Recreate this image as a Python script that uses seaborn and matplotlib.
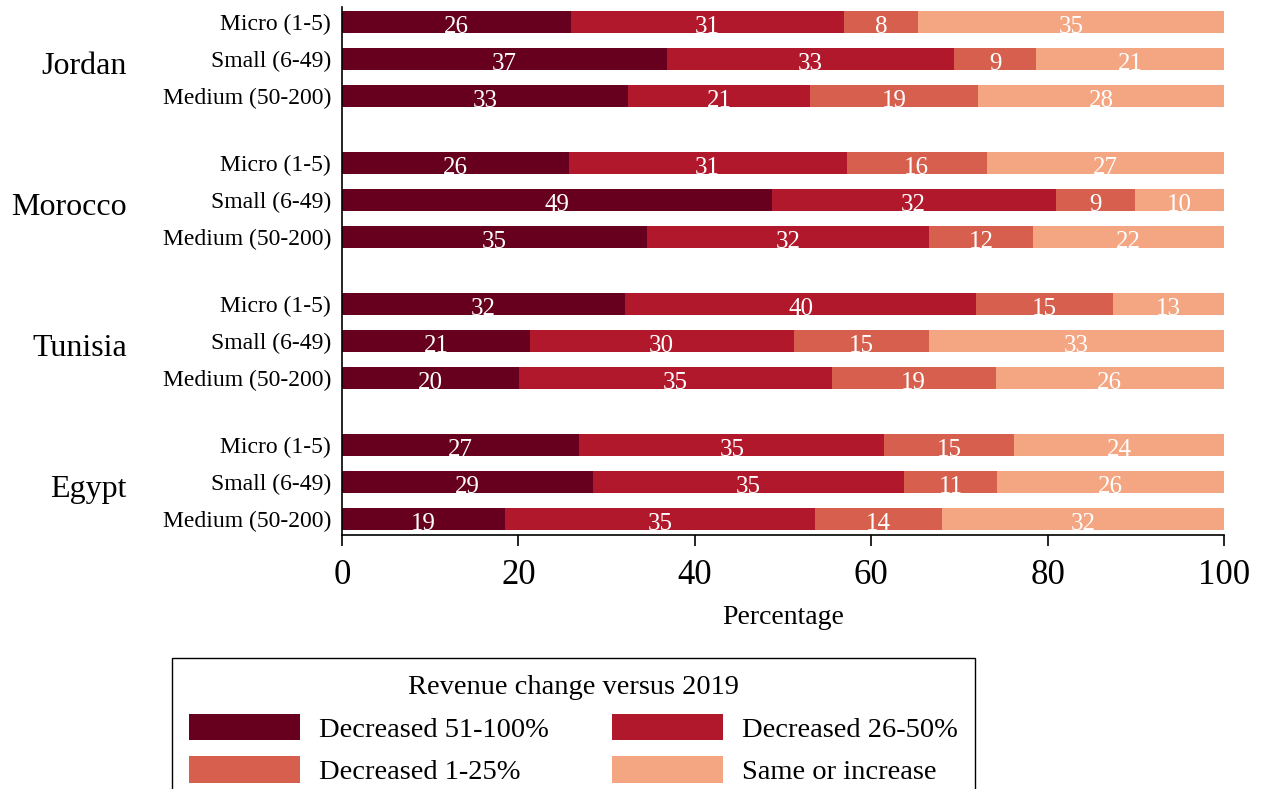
import matplotlib
matplotlib.use("Agg")
import matplotlib.pyplot as plt
import matplotlib.transforms as mtransforms
from matplotlib.patches import Patch
import seaborn as sns
import pandas as pd
import numpy as np

# data (segment widths in %, and the printed labels)
countries = ["Jordan", "Morocco", "Tunisia", "Egypt"]
sizes = ["Micro (1-5)", "Small (6-49)", "Medium (50-200)"]
categories = ["Decreased 51-100%", "Decreased 26-50%", "Decreased 1-25%", "Same or increase"]
colors = ["#67001f", "#b2182b", "#d6604d", "#f4a582"]

dec_51_100 = [26.0, 36.8, 32.4, 25.7, 48.7, 34.6, 32.1, 21.3, 20.1, 26.9, 28.5, 18.5]
dec_26_50 = [30.9, 32.6, 20.7, 31.5, 32.2, 31.9, 39.8, 29.9, 35.4, 34.6, 35.2, 35.1]
dec_1_25 = [8.4, 9.3, 19.0, 15.9, 9.0, 11.9, 15.5, 15.4, 18.6, 14.7, 10.6, 14.4]
same_or_inc = [34.7, 21.3, 27.9, 26.9, 10.1, 21.6, 12.6, 33.4, 25.9, 23.8, 25.7, 32.0]

lab_51_100 = [26, 37, 33, 26, 49, 35, 32, 21, 20, 27, 29, 19]
lab_26_50 = [31, 33, 21, 31, 32, 32, 40, 30, 35, 35, 35, 35]
lab_1_25 = [8, 9, 19, 16, 9, 12, 15, 15, 19, 15, 11, 14]
lab_same = [35, 21, 28, 27, 10, 22, 13, 33, 26, 24, 26, 32]


def main():
    sns.set_theme(style="ticks")
    plt.rcParams["font.family"] = ["Liberation Serif", "DejaVu Serif"]
    for key in ["text.color", "axes.labelcolor", "xtick.color", "ytick.color"]:
        plt.rcParams[key] = "black"

    group_gap = 3.8
    pos = [g * group_gap + i for g in range(len(countries)) for i in range(len(sizes))]

    df = pd.DataFrame({
        "pos": pos,
        "country": np.repeat(countries, len(sizes)),
        "size": sizes * len(countries),
    })
    widths = [dec_51_100, dec_26_50, dec_1_25, same_or_inc]
    labels = [lab_51_100, lab_26_50, lab_1_25, lab_same]
    cum = np.cumsum(np.array(widths), axis=0)
    for k in range(len(categories)):
        df[f"cum{k}"] = cum[k]

    fig = plt.figure(figsize=(12.61, 7.89), dpi=100)
    ax = fig.add_axes([342 / 1261, 1 - 535 / 789, 882 / 1261, 528 / 789])

    # stacked bars drawn as overlapping cumulative bars, largest first
    for k in reversed(range(len(categories))):
        sns.barplot(data=df, x=f"cum{k}", y="pos", orient="h", native_scale=True,
                    color=colors[k], width=0.6, errorbar=None, saturation=1,
                    linewidth=0, ax=ax)

    for k in range(len(categories)):
        start = cum[k - 1] if k > 0 else np.zeros(len(pos))
        mids = (start + cum[k]) / 2
        for y, m, lab in zip(pos, mids, labels[k]):
            ax.text(m, y + 0.3, str(lab), ha="center", va="baseline",
                    color="white", fontsize=18)

    ax.set_xlim(0, 100)
    ax.set_ylim(13.83, -0.40)
    ax.set_yticks(pos)
    ax.set_yticklabels(df["size"], fontsize=17)
    ax.tick_params(axis="y", length=0, pad=8)
    ax.set_xticks([0, 20, 40, 60, 80, 100])
    ax.tick_params(axis="x", labelsize=25, length=8, width=1.2, direction="out",
                   color="black", pad=9)
    ax.set_ylabel("")
    ax.set_xlabel("Percentage", fontsize=20, labelpad=10)

    for side in ["top", "right"]:
        ax.spines[side].set_visible(False)
    for side in ["left", "bottom"]:
        ax.spines[side].set_color("black")
        ax.spines[side].set_linewidth(1.2)

    trans = mtransforms.blended_transform_factory(ax.transAxes, ax.transData)
    for g, c in enumerate(countries):
        ax.text(-0.2438, g * group_gap + 1.2, c, transform=trans,
                ha="right", va="center", fontsize=23)

    handles = [Patch(facecolor=colors[k], edgecolor="none") for k in range(4)]
    order = [0, 2, 1, 3]
    leg = fig.legend([handles[i] for i in order], [categories[i] for i in order],
                     loc="upper left", bbox_to_anchor=(172 / 1261, 1 - 658 / 789),
                     ncol=2, title="Revenue change versus 2019",
                     fontsize=20.5, title_fontsize=20.5, frameon=True,
                     fancybox=False, edgecolor="black", framealpha=1,
                     handlelength=3.9, handleheight=1.05, handletextpad=0.67,
                     columnspacing=2.2, labelspacing=0.48, borderpad=0.6,
                     borderaxespad=0)
    leg.get_frame().set_linewidth(1.0)

    fig.savefig("out.png", dpi=100)
    plt.close(fig)


if __name__ == "__main__":
    main()
